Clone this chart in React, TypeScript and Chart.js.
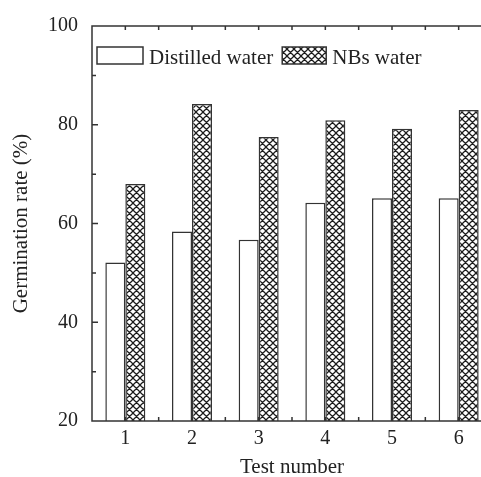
import React, { useEffect, useRef } from 'react';
import { Chart, registerables } from 'chart.js';

Chart.register(...registerables);

const categories = ['1', '2', '3', '4', '5', '6'];
const distilledWater = [52.1, 58.4, 56.7, 64.2, 65.1, 65.1];
const nbsWater = [68.0, 84.2, 77.5, 80.9, 79.2, 83.0];
const seriesLabels = ['Distilled water', 'NBs water'];
const yMajorTicks = [20, 40, 60, 80, 100];
const yMinorTicks = [30, 50, 70, 90];
const xTitle = 'Test number';
const yTitle = 'Germination rate (%)';

const FONT = '"Liberation Serif", "Times New Roman", Times, serif';
const INK = '#222222';
const LINE = '#333333';

function makeHatch(): CanvasPattern | string {
  const s = 7;
  const c = document.createElement('canvas');
  c.width = s;
  c.height = s;
  const g = c.getContext('2d');
  if (!g) return '#999';
  g.fillStyle = '#ffffff';
  g.fillRect(0, 0, s, s);
  g.strokeStyle = '#1c1c1c';
  g.lineWidth = 1.25;
  g.beginPath();
  for (const o of [-s, 0, s]) {
    g.moveTo(o - 1, -1);
    g.lineTo(o + s + 1, s + 1);
    g.moveTo(o + s + 1, -1);
    g.lineTo(o - 1, s + 1);
  }
  g.stroke();
  return g.createPattern(c, 'repeat') || '#999';
}

const framePlugin = {
  id: 'frameTicks',
  afterDatasetsDraw(chart: any) {
    const { ctx, chartArea: a, scales } = chart;
    const xs = scales.x;
    const ys = scales.y;
    ctx.save();
    ctx.strokeStyle = LINE;
    ctx.lineWidth = 1.5;
    ctx.beginPath();
    ctx.moveTo(a.right, a.top);
    ctx.lineTo(a.left, a.top);
    ctx.lineTo(a.left, a.bottom);
    ctx.lineTo(a.right, a.bottom);
    ctx.lineTo(a.right, a.top);
    for (const v of yMajorTicks) {
      const py = ys.getPixelForValue(v);
      ctx.moveTo(a.left, py);
      ctx.lineTo(a.left + 6, py);
      ctx.moveTo(a.right, py);
      ctx.lineTo(a.right - 6, py);
    }
    for (const v of yMinorTicks) {
      const py = ys.getPixelForValue(v);
      ctx.moveTo(a.left, py);
      ctx.lineTo(a.left + 4, py);
      ctx.moveTo(a.right, py);
      ctx.lineTo(a.right - 4, py);
    }
    const n = categories.length;
    const xsPos: number[] = [];
    for (let i = 0; i < n; i++) {
      const c = xs.getPixelForValue(i);
      xsPos.push(c);
      if (i < n - 1) xsPos.push((c + xs.getPixelForValue(i + 1)) / 2);
    }
    for (const px of xsPos) {
      ctx.moveTo(px, a.top);
      ctx.lineTo(px, a.top + 4);
      ctx.moveTo(px, a.bottom);
      ctx.lineTo(px, a.bottom - 4);
    }
    ctx.stroke();
    ctx.restore();
  },
};

const legendPlugin = {
  id: 'innerLegend',
  afterDraw(chart: any) {
    const { ctx, chartArea: a } = chart;
    const ds = chart.data.datasets;
    ctx.save();
    ctx.font = `21px ${FONT}`;
    ctx.textBaseline = 'alphabetic';
    ctx.textAlign = 'left';
    let x = a.left + 5;
    const boxTop = a.top + 21;
    const boxH = 17;
    const widths = [46, 44];
    ds.forEach((d: any, i: number) => {
      const w = widths[i] ?? 44;
      ctx.fillStyle = d.backgroundColor;
      ctx.fillRect(x, boxTop, w, boxH);
      ctx.strokeStyle = LINE;
      ctx.lineWidth = 1.5;
      ctx.strokeRect(x, boxTop, w, boxH);
      x += w + 6;
      ctx.fillStyle = INK;
      ctx.fillText(d.label, x, boxTop + 16.5);
      x += ctx.measureText(d.label).width + 9;
    });
    ctx.restore();
  },
};

export default function App() {
  const ref = useRef<HTMLCanvasElement | null>(null);

  useEffect(() => {
    if (!ref.current) return;
    const hatch = makeHatch();
    const chart = new Chart(ref.current, {
      type: 'bar',
      data: {
        labels: categories,
        datasets: [
          {
            label: seriesLabels[0],
            data: distilledWater,
            backgroundColor: '#ffffff',
            borderColor: LINE,
            borderWidth: 1.5,
            categoryPercentage: 0.6,
            barPercentage: 1.0,
          },
          {
            label: seriesLabels[1],
            data: nbsWater,
            backgroundColor: hatch as any,
            borderColor: LINE,
            borderWidth: 1.5,
            categoryPercentage: 0.6,
            barPercentage: 1.0,
          },
        ],
      },
      options: {
        animation: false,
        responsive: false,
        devicePixelRatio: 1,
        layout: { padding: { top: 21, right: 8, bottom: 0, left: 0 } },
        plugins: {
          legend: { display: false },
          tooltip: { enabled: false },
        },
        scales: {
          x: {
            grid: { display: false, drawTicks: false },
            border: { display: false },
            ticks: {
              color: INK,
              padding: 6,
              font: { family: FONT, size: 20 },
            },
            title: {
              display: true,
              text: xTitle,
              color: INK,
              font: { family: FONT, size: 21, lineHeight: 0.86 },
              padding: { top: 0, bottom: 0 },
            },
            afterFit(scale: any) {
              scale.height = 56;
            },
          },
          y: {
            min: 20,
            max: 100,
            grid: { display: false, drawTicks: false },
            border: { display: false },
            ticks: {
              stepSize: 20,
              color: INK,
              padding: 14,
              font: { family: FONT, size: 20 },
            },
            title: {
              display: true,
              text: yTitle,
              color: INK,
              font: { family: FONT, size: 21, lineHeight: 1 },
              padding: { top: 10.5, bottom: 0 },
            },
            afterFit(scale: any) {
              scale.width = 92;
            },
          },
        },
      },
      plugins: [framePlugin, legendPlugin],
    });
    return () => chart.destroy();
  }, []);

  return (
    <div
      style={{
        position: 'fixed',
        left: 0,
        top: 0,
        width: 481,
        height: 477,
        overflow: 'hidden',
        background: '#ffffff',
      }}
    >
      <canvas ref={ref} width={500} height={477} style={{ display: 'block' }} />
    </div>
  );
}
